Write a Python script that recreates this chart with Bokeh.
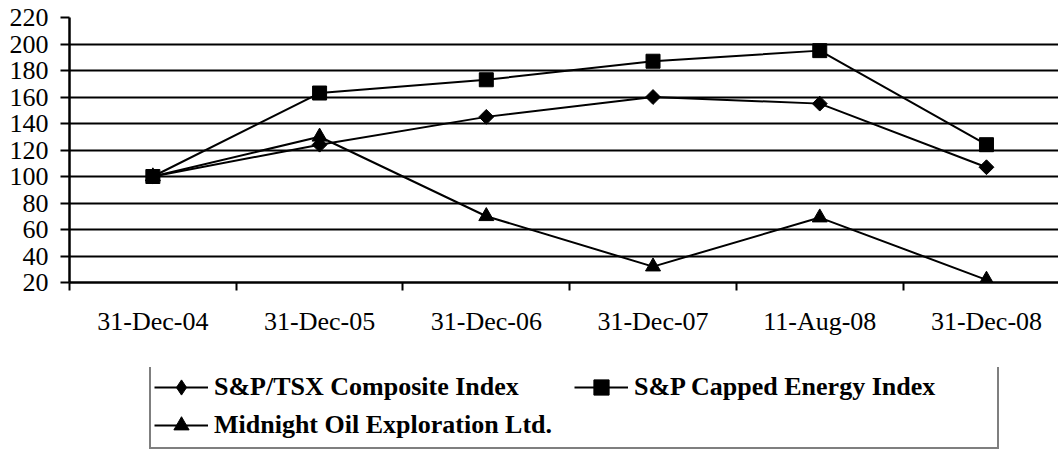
import numpy as np
from bokeh.plotting import figure
from bokeh.layouts import column
from bokeh.models import (Range1d, FixedTicker, Legend, LegendItem, ColumnDataSource,
                          LinearAxis)
from bokeh.embed import file_html
from bokeh.resources import INLINE

categories = ["31-Dec-04", "31-Dec-05", "31-Dec-06", "31-Dec-07", "11-Aug-08", "31-Dec-08"]
tsx = [100, 124, 145, 160, 155, 107]
energy = [100, 163, 173, 187, 195, 124]
midnight = [100, 130, 70, 32, 69, 22]
y_ticks = list(range(20, 221, 20))

xpos = [i + 0.5 for i in range(len(categories))]

p = figure(width=1058, height=367, output_backend="svg", toolbar_location=None,
           x_range=Range1d(0, 5.932), y_range=Range1d(20, 220),
           min_border_left=69, min_border_right=0, min_border_top=17,
           min_border_bottom=85, x_axis_location=None, y_axis_location=None)
p.outline_line_color = None
p.background_fill_color = "white"
p.border_fill_color = "white"

# y axis
yax = LinearAxis(ticker=FixedTicker(ticks=y_ticks, minor_ticks=[]))
yax.axis_line_width = 2.5
yax.axis_line_color = "black"
yax.major_tick_out = 9
yax.major_tick_in = 0
yax.major_tick_line_width = 2
yax.major_tick_line_color = "black"
yax.minor_tick_line_color = None
yax.major_label_text_font = "Liberation Serif"
yax.major_label_text_font_size = "26px"
yax.major_label_text_color = "black"
yax.major_label_standoff = 12
p.add_layout(yax, "left")

# x axis
xax = LinearAxis(ticker=FixedTicker(ticks=xpos, minor_ticks=list(range(0, 7))))
xax.major_label_overrides = {x: c for x, c in zip(xpos, categories)}
xax.axis_line_width = 2.5
xax.axis_line_color = "black"
xax.major_tick_out = 0
xax.major_tick_in = 0
xax.major_tick_line_color = None
xax.minor_tick_out = 8
xax.minor_tick_in = 0
xax.minor_tick_line_width = 2
xax.minor_tick_line_color = "black"
xax.major_label_text_font = "Liberation Serif"
xax.major_label_text_font_size = "26px"
xax.major_label_text_color = "black"
xax.major_label_standoff = 16
p.add_layout(xax, "below")

p.xgrid.visible = False
p.ygrid.ticker = FixedTicker(ticks=y_ticks)
p.ygrid.grid_line_color = "black"
p.ygrid.grid_line_width = 2

# (name, values, chart marker, chart angle, chart size, legend marker)
series = [
    ("S&P/TSX Composite Index", tsx, "square", np.pi / 4, 10.5, "diamond"),
    ("S&P Capped Energy Index", energy, "square", 0, 14, "square"),
    ("Midnight Oil Exploration Ltd.", midnight, "triangle", 0, 15, "triangle"),
]

# legend figure (below the chart)
q = figure(width=1058, height=84, output_backend="svg", toolbar_location=None,
           x_range=Range1d(0, 1), y_range=Range1d(0, 1),
           min_border_left=69, min_border_right=0, min_border_top=0, min_border_bottom=0,
           x_axis_location=None, y_axis_location=None)
q.outline_line_color = None
q.xgrid.visible = False
q.ygrid.visible = False
q.border_fill_color = "white"

items = {}
for name, vals, marker, ang, size, lmarker in series:
    src = ColumnDataSource(dict(x=xpos, y=vals))
    p.line("x", "y", source=src, line_color="black", line_width=2)
    p.scatter("x", "y", source=src, marker=marker, angle=ang, size=size,
              fill_color="black", line_color="black")
    dummy = ColumnDataSource(dict(x=[np.nan], y=[np.nan]))
    lq = q.line("x", "y", source=dummy, line_color="black", line_width=2)
    sq = q.scatter("x", "y", source=dummy, marker=lmarker, size=size,
                   fill_color="black", line_color="black")
    items[name] = LegendItem(label=name, renderers=[lq, sq])

order = ["S&P/TSX Composite Index", "Midnight Oil Exploration Ltd.", "S&P Capped Energy Index"]
legend = Legend(items=[items[n] for n in order], location=(80, 2), ncols=2,
                label_text_font="Liberation Serif", label_text_font_style="bold",
                label_text_font_size="26px", label_text_color="black",
                glyph_width=54, glyph_height=38, label_height=38, label_width=360,
                label_standoff=6, spacing=0, padding=3, margin=0,
                border_line_color="black", border_line_width=2,
                background_fill_color="white", background_fill_alpha=1)
q.add_layout(legend, "center")

layout = column(p, q, spacing=0)
open("out.html", "w").write(file_html(layout, INLINE))
